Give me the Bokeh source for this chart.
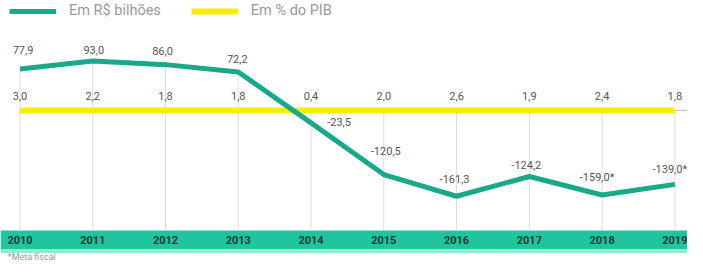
from bokeh.plotting import figure
from bokeh.models import ColumnDataSource, BoxAnnotation, Legend, LegendItem, Range1d
from bokeh.core.properties import value
from bokeh.embed import file_html
from bokeh.resources import INLINE

# ---------------- data ----------------
years = [2010, 2011, 2012, 2013, 2014, 2015, 2016, 2017, 2018, 2019]
year_labels = ["2010", "2011", "2012", "2013", "2014", "2015", "2016", "2017", "2018", "2019"]
bilhoes = [77.9, 93.0, 86.0, 72.2, -23.5, -120.5, -161.3, -124.2, -159.0, -139.0]
bilhoes_labels = ["77,9", "93,0", "86,0", "72,2", "-23,5", "-120,5", "-161,3", "-124,2", "-159,0*", "-139,0*"]
pib_labels = ["3,0", "2,2", "1,8", "1,8", "0,4", "2,0", "2,6", "1,9", "2,4", "1,8"]
pib_line = [0, 0, 0, 0, 0, 0, 0, 0, 0, 0]  # the % line is drawn on the zero baseline
footnote = "*Meta fiscal"

# ---------------- layout / style ----------------
W, H = 687, 261
GREEN = "#17a98a"
BAND = "#1fc59e"
BAND_LIGHT = "#93e8d2"
YELLOW = "#f7ee00"
FONT = "Roboto"

# per-label pixel offsets (dx, dy) for the R$ labels
lab_dx = [3, 1, -3, -1, 28, 2, -2, -3, -5, -5]
lab_dy = [-19, -11, -14, -13, -1, -24, -17, -12, -18, -15]

x0, x1 = 2009.732, 2019.174
y0, y1 = -283.9, 206.5
band_top, band_mid, band_bot, band_light_bot = -225.7, -243.5, -260.5, -268.0

p = figure(width=W, height=H, output_backend="svg", toolbar_location=None,
           x_range=Range1d(x0, x1), y_range=Range1d(y0, y1),
           min_border=0, min_border_left=0, min_border_right=0,
           min_border_top=0, min_border_bottom=0)
p.axis.visible = False
p.grid.visible = False
p.outline_line_color = None
p.background_fill_color = "white"
p.border_fill_color = "white"

# band (under everything)
p.add_layout(BoxAnnotation(top=band_top, bottom=band_bot, fill_color=BAND, fill_alpha=1,
                           line_color=None, level="underlay"))
p.add_layout(BoxAnnotation(top=band_bot, bottom=band_light_bot, fill_color=BAND_LIGHT,
                           fill_alpha=1, line_color=None, level="underlay"))

# vertical gridlines, from the upper line down to the band
grid_top = [max(v, 0) for v in bilhoes]
p.segment(x0=years, y0=grid_top, x1=years, y1=[band_top] * len(years),
          line_color="#dddddd", line_width=1)

# small baseline stub at the right
p.segment(x0=[years[-1]], y0=[0], x1=[x1], y1=[0], line_color="#bbbbbb", line_width=1)

# years in the band
p.text(x=years, y=[band_mid] * len(years), text=year_labels, text_align="center",
       text_baseline="middle", text_font=value(FONT), text_font_style="bold",
       text_font_size="11px", text_color="#1d3b33")

# lines
yellow_r = p.line(years, pib_line, line_color=YELLOW, line_width=6)
green_r = p.line(years, bilhoes, line_color=GREEN, line_width=5, line_join="round")

# labels
src = ColumnDataSource(dict(x=years, y=bilhoes, t=bilhoes_labels, dx=lab_dx, dy=lab_dy))
p.text(x="x", y="y", text="t", x_offset="dx", y_offset="dy", source=src,
       text_align="center", text_baseline="middle", text_font=value(FONT),
       text_font_size="11px", text_color="#555555")
p.text(x=years, y=pib_line, text=pib_labels, y_offset=-14,
       text_align="center", text_baseline="middle", text_font=value(FONT),
       text_font_size="11px", text_color="#555555")

# footnote
p.text(x=[x0 + 0.1], y=[y0], text=[footnote], text_align="left", text_baseline="bottom",
       text_font=value(FONT), text_font_size="9px", text_color="#999999")

legend = Legend(items=[LegendItem(label="Em R$ bilhões", renderers=[green_r]),
                       LegendItem(label="Em % do PIB", renderers=[yellow_r])],
                orientation="horizontal", location=(9, 242), margin=0, padding=1,
                glyph_width=47, glyph_height=10, label_height=10, label_standoff=13,
                spacing=30, border_line_color=None, background_fill_alpha=0,
                label_text_font=FONT, label_text_font_size="14.5px",
                label_text_color="#999999")
p.add_layout(legend)

open("out.html", "w").write(file_html(p, INLINE))
